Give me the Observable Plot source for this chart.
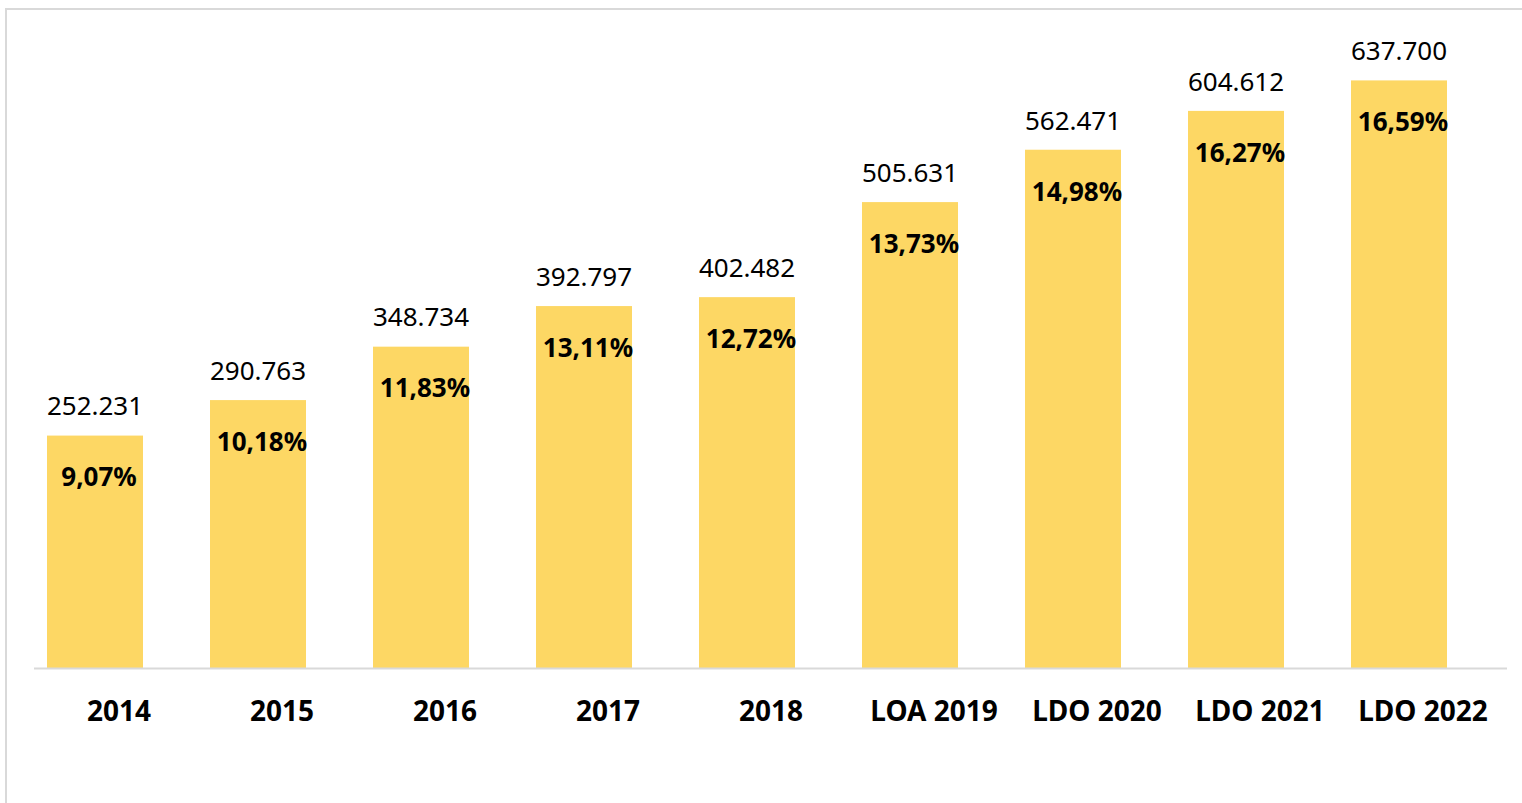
<!DOCTYPE html>
<html>
<head>
<meta charset="utf-8">
<script src="https://cdn.jsdelivr.net/npm/d3@7"></script>
<script src="https://cdn.jsdelivr.net/npm/@observablehq/plot@0.6"></script>
<style>
  html, body { margin: 0; padding: 0; background: #ffffff; }
  #wrap { position: relative; width: 1522px; height: 803px; overflow: hidden; }
  #frame { position: absolute; left: 5px; top: 8px; right: -10px; bottom: -10px;
           border-left: 2px solid #d9d9d9; border-top: 2px solid #d9d9d9; pointer-events: none; }
  #chart { position: absolute; left: 0; top: 0; }
</style>
</head>
<body>
<div id="wrap"><div id="frame"></div><div id="chart"></div></div>
<script>
const categories = ["2014", "2015", "2016", "2017", "2018", "LOA 2019", "LDO 2020", "LDO 2021", "LDO 2022"];
const values = [252231, 290763, 348734, 392797, 402482, 505631, 562471, 604612, 637700];
const valueLabels = ["252.231", "290.763", "348.734", "392.797", "402.482", "505.631", "562.471", "604.612", "637.700"];
const percentLabels = ["9,07%", "10,18%", "11,83%", "13,11%", "12,72%", "13,73%", "14,98%", "16,27%", "16,59%"];

const data = categories.map((c, i) => ({
  cat: c, value: values[i], vlabel: valueLabels[i], plabel: percentLabels[i]
}));

const font = "'Noto Sans', 'Open Sans', sans-serif";

const chart = Plot.plot({
  width: 1522,
  height: 803,
  marginLeft: 34,
  marginRight: 15,
  marginTop: 23,
  marginBottom: 135,
  style: { fontFamily: font, background: "transparent" },
  x: { domain: categories, padding: 0, label: null },
  y: { domain: [0, 700000], axis: null },
  marks: [
    Plot.barY(data, { x: "cat", y: "value", fill: "#fdd764", insetLeft: 10, insetRight: 57 }),
    Plot.ruleY([0], { stroke: "#d9d9d9", strokeWidth: 2 }),
    Plot.text(data, { x: "cat", y: "value", text: "vlabel", dx: -24, dy: -29,
      fontSize: 26, fill: "#000000", fontFamily: font }),
    Plot.text(data, { x: "cat", y: "value", text: "plabel", dx: -20, dy: 42,
      fontSize: 26, fontWeight: "bold", fill: "#000000", fontFamily: font }),
    Plot.axisX({ tickSize: 0, tickPadding: 33, fontSize: 28, fontWeight: "bold",
      fill: "#000000", label: null, fontFamily: font })
  ]
});
document.getElementById("chart").appendChild(chart);
</script>
</body>
</html>
